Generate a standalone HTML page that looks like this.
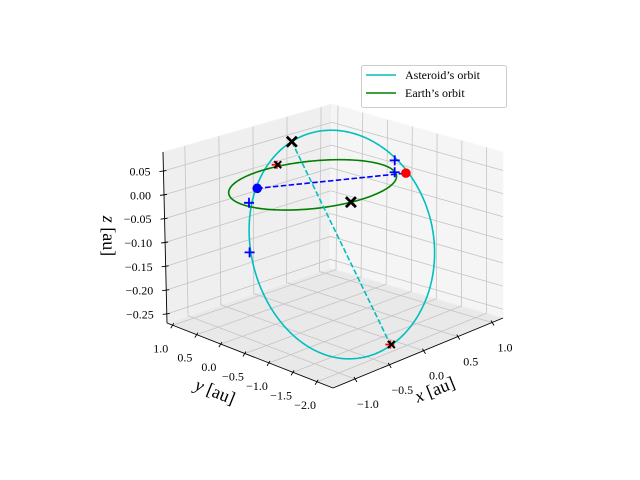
<!DOCTYPE html>
<html><head><meta charset="utf-8"><style>
html,body{margin:0;padding:0;background:#fff;}
svg{display:block;font-family:"Liberation Serif","DejaVu Serif",serif;}
</style></head><body>
<svg id="chart" width="640" height="480" viewBox="0 0 640 480">
<g id="panes"></g>
<g id="grid"></g>
<g id="axes"></g>
<g id="series"></g>
<text x="103" y="236" font-size="18" text-anchor="middle" transform="rotate(90 103 236)"><tspan font-style="italic">z</tspan> [au]</text>
<text x="213" y="397" font-size="18" text-anchor="middle" transform="rotate(22 213 397)"><tspan font-style="italic">y</tspan> [au]</text>
<text x="437" y="395" font-size="18" text-anchor="middle" transform="rotate(-22 437 395)"><tspan font-style="italic">x</tspan> [au]</text>
<g>
<rect x="361.5" y="65.5" width="145" height="42" rx="2" fill="#fff" fill-opacity="0.8" stroke="#ccc"/>
<line x1="366" y1="75" x2="396" y2="75" stroke="#00bfbf" stroke-width="1.5"/>
<text x="405" y="79" font-size="12">Asteroid’s orbit</text>
<line x1="366" y1="93" x2="396" y2="93" stroke="#008000" stroke-width="1.5"/>
<text x="405" y="97" font-size="12">Earth’s orbit</text>
</g>
</svg>
<script>
const xLim = [-1.32, 1.16];
const yLim = [-2.33, 1.12];
const zLim = [-0.269, 0.09];
const xTicks = [-1.0, -0.5, 0.0, 0.5, 1.0];
const xTickLabels = ["−1.0", "−0.5", "0.0", "0.5", "1.0"];
const yTicks = [1.0, 0.5, 0.0, -0.5, -1.0, -1.5, -2.0];
const yTickLabels = ["1.0", "0.5", "0.0", "−0.5", "−1.0", "−1.5", "−2.0"];
const zTicks = [0.05, 0.0, -0.05, -0.10, -0.15, -0.20, -0.25];
const zTickLabels = ["0.05", "0.00", "−0.05", "−0.10", "−0.15", "−0.20", "−0.25"];
// orbit geometry (center, conjugate semi-axes)
const earthCenter = [0.03, -0.04, 0];
const earthAxisA = [1, 0, 0];
const earthAxisB = [0, 1, 0];
const asteroidCenter = [-0.070, -0.767, -0.095];
const asteroidAxisA = [0.133, 0.492, 0.215];
const asteroidAxisB = [0.835, -0.706, 0.0];
// markers
const blueDot = [-0.465, 0.400, 0.0];
const redDot = [0.986, -0.615, 0.0];
const bluePlusX = [0.929, 0.929, -0.878, -0.878];
const bluePlusY = [-0.467, -0.467, -0.003, -0.003];
const bluePlusZ = [0.0256, 0.0, 0.0, -0.102];
const blackXX = [0.011, -0.118, -0.282];
const blackXY = [0.349, -1.023, -2.048];
const blackXZ = [0.08, 0.0, -0.25];
const smallMarkX = [-0.087, -0.282];
const smallMarkY = [0.522, -2.048];
const smallMarkZ = [0.03, -0.25];

const NS = "http://www.w3.org/2000/svg";
const C = [[[[333,388],[503,318]],[[167,323],[330,268]]],
           [[[333,200],[503,152]],[[163,152],[332,104]]]];
function proj(x, y, z) {
  const u = (x - xLim[0]) / (xLim[1] - xLim[0]);
  const v = (y - yLim[0]) / (yLim[1] - yLim[0]);
  const w = (z - zLim[0]) / (zLim[1] - zLim[0]);
  let px = 0, py = 0;
  for (let a = 0; a < 2; a++) for (let b = 0; b < 2; b++) for (let c = 0; c < 2; c++) {
    const f = (a ? w : 1 - w) * (b ? v : 1 - v) * (c ? u : 1 - u);
    px += f * C[a][b][c][0]; py += f * C[a][b][c][1];
  }
  return [px, py];
}
function mk(parent, tag, attrs) {
  const e = document.createElementNS(NS, tag);
  for (const k in attrs) e.setAttribute(k, attrs[k]);
  parent.appendChild(e);
  return e;
}
function pts(list) { return list.map(p => p[0].toFixed(2) + "," + p[1].toFixed(2)).join(" "); }
const panes = document.getElementById("panes");
const grid = document.getElementById("grid");
const axes = document.getElementById("axes");
const series = document.getElementById("series");
const [x0, x1] = xLim, [y0, y1] = yLim, [z0, z1] = zLim;

let el = mk(panes, "polygon", {points: pts([proj(x0,y1,z0),proj(x1,y1,z0),proj(x1,y1,z1),proj(x0,y1,z1)]), fill: "#efefef", stroke: "#f4f4f4"});


el = mk(panes, "polygon", {points: pts([proj(x1,y1,z0),proj(x1,y0,z0),proj(x1,y0,z1),proj(x1,y1,z1)]), fill: "#f5f5f5", stroke: "#f8f8f8"});


el = mk(panes, "polygon", {points: pts([proj(x0,y0,z0),proj(x1,y0,z0),proj(x1,y1,z0),proj(x0,y1,z0)]), fill: "#e9e9e9", stroke: "#f0f0f0"});



const gs = {stroke: "#c4c4c4", "stroke-width": 0.8, fill: "none"};
xTicks.forEach(x => {
  el = mk(grid, "polyline", Object.assign({points: pts([proj(x,y0,z0),proj(x,y1,z0),proj(x,y1,z1)])}, gs));
  
  
});
yTicks.forEach(y => {
  el = mk(grid, "polyline", Object.assign({points: pts([proj(x0,y,z0),proj(x1,y,z0),proj(x1,y,z1)])}, gs));
  
  
});
zTicks.forEach(z => {
  el = mk(grid, "polyline", Object.assign({points: pts([proj(x0,y1,z),proj(x1,y1,z),proj(x1,y0,z)])}, gs));
  
  
});

el = mk(axes, "polyline", {points: pts([proj(x0,y0,z0),proj(x1,y0,z0)]), stroke: "#000", "stroke-width": 0.9, fill: "none"});


el = mk(axes, "polyline", {points: pts([proj(x0,y0,z0),proj(x0,y1,z0)]), stroke: "#000", "stroke-width": 0.9, fill: "none"});


el = mk(axes, "polyline", {points: pts([proj(x0,y1,z0),proj(x0,y1,z1)]), stroke: "#000", "stroke-width": 0.9, fill: "none"});



xTicks.forEach((x, i) => {
  const p = proj(x, y0, z0);
  el = mk(axes, "line", {x1: p[0]-1, y1: p[1]-2, x2: p[0]+2, y2: p[1]+3, stroke: "#000", "stroke-width": 0.9});
  
  
  el = mk(axes, "text", {x: p[0]+13, y: p[1]+29, "font-size": 12, "text-anchor": "middle"});
  el.textContent = xTickLabels[i];
  
  
});
yTicks.forEach((y, i) => {
  const p = proj(x0, y, z0);
  el = mk(axes, "line", {x1: p[0]+1, y1: p[1]-2, x2: p[0]-2, y2: p[1]+3, stroke: "#000", "stroke-width": 0.9});
  
  
  el = mk(axes, "text", {x: p[0]-12, y: p[1]+27, "font-size": 12, "text-anchor": "middle"});
  el.textContent = yTickLabels[i];
  
  
});
zTicks.forEach((z, i) => {
  const p = proj(x0, y1, z);
  el = mk(axes, "line", {x1: p[0]-4, y1: p[1]+0.5, x2: p[0]+3, y2: p[1]-0.5, stroke: "#000", "stroke-width": 0.9});
  
  
  el = mk(axes, "text", {x: p[0]-13, y: p[1]+4.5, "font-size": 12, "text-anchor": "end"});
  el.textContent = zTickLabels[i];
  
  
});

function orbit(c, a, b) {
  const out = [];
  for (let k = 0; k <= 240; k++) {
    const t = 2 * Math.PI * k / 240, ct = Math.cos(t), st = Math.sin(t);
    out.push(proj(c[0]+a[0]*ct+b[0]*st, c[1]+a[1]*ct+b[1]*st, c[2]+a[2]*ct+b[2]*st));
  }
  return out;
}
el = mk(series, "polyline", {points: pts(orbit(asteroidCenter, asteroidAxisA, asteroidAxisB)), stroke: "#00bfbf", "stroke-width": 1.6, fill: "none"});


el = mk(series, "polyline", {points: pts(orbit(earthCenter, earthAxisA, earthAxisB)), stroke: "#008000", "stroke-width": 1.6, fill: "none"});



let pa = proj(blackXX[0], blackXY[0], blackXZ[0]), pb = proj(blackXX[2], blackXY[2], blackXZ[2]);
el = mk(series, "line", {x1: pa[0], y1: pa[1], x2: pb[0], y2: pb[1], stroke: "#00bfbf", "stroke-width": 1.6, "stroke-dasharray": "5.5 2.4"});


pa = proj(blueDot[0], blueDot[1], blueDot[2]); pb = proj(redDot[0], redDot[1], redDot[2]);
el = mk(series, "line", {x1: pa[0], y1: pa[1], x2: pb[0], y2: pb[1], stroke: "#0000ff", "stroke-width": 1.6, "stroke-dasharray": "5.5 2.4"});



el = mk(series, "circle", {cx: pa[0], cy: pa[1], r: 4.8, fill: "#0000ff"});


el = mk(series, "circle", {cx: pb[0], cy: pb[1], r: 4.8, fill: "#ff0000"});



bluePlusX.forEach((x, i) => {
  const p = proj(x, bluePlusY[i], bluePlusZ[i]);
  el = mk(series, "path", {d: `M${p[0]-5},${p[1]}H${p[0]+5}M${p[0]},${p[1]-5}V${p[1]+5}`, stroke: "#0000ff", "stroke-width": 1.8, fill: "none"});
  
  
});
smallMarkX.forEach((x, i) => {
  const p = proj(x, smallMarkY[i], smallMarkZ[i]);
  el = mk(series, "path", {d: `M${p[0]-5},${p[1]}H${p[0]+4}M${p[0]},${p[1]-4}V${p[1]+4}`, stroke: "#ff0000", "stroke-width": 1.8, fill: "none"});
  
  
  el = mk(series, "path", {d: `M${p[0]-3.5+1},${p[1]-3.5}L${p[0]+3.5+1},${p[1]+3.5}M${p[0]-3.5+1},${p[1]+3.5}L${p[0]+3.5+1},${p[1]-3.5}`, stroke: "#000", "stroke-width": 2, fill: "none"});
  
  
});
blackXX.forEach((x, i) => {
  if (i === 2) return;
  const p = proj(x, blackXY[i], blackXZ[i]);
  el = mk(series, "path", {d: `M${p[0]-5},${p[1]-5}L${p[0]+5},${p[1]+5}M${p[0]-5},${p[1]+5}L${p[0]+5},${p[1]-5}`, stroke: "#000", "stroke-width": 2.8, fill: "none"});
  
  
});
</script>
</body></html>
